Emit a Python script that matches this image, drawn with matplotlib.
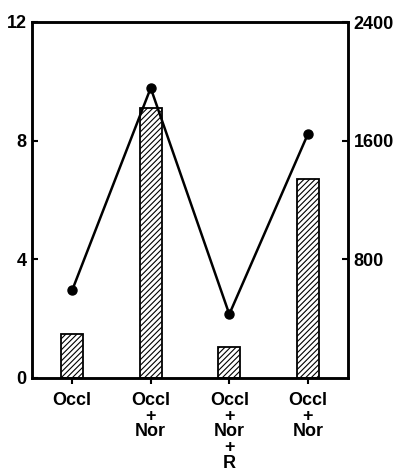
import numpy as np
import matplotlib
matplotlib.use("Agg")
from matplotlib import pyplot as plt

plt.rcParams['font.family'] = ['Liberation Sans', 'DejaVu Sans']
plt.rcParams['hatch.linewidth'] = 0.8

categories = ["Occl", "Occl\n+\nNor", "Occl\n+\nNor\n+\nR", "Occl\n+\nNor"]
bar_values = [1.5, 9.1, 1.05, 6.7]          # left axis (0-12)
line_values = [590, 1955, 430, 1645]        # right axis (0-2400)
left_ticks = [0, 4, 8, 12]
right_ticks = [800, 1600, 2400]

fig = plt.figure(figsize=(3.99, 4.74), dpi=100)
ax = fig.add_axes([32 / 399, 1 - 378 / 474, 316 / 399, 356 / 474])
x = np.arange(len(categories))

ax.bar(x, bar_values, width=0.28, color='white', edgecolor='black',
       linewidth=1.3, hatch='//////', zorder=2)
ax.set_xlim(-0.51, 3.51)
ax.set_ylim(0, 12)
ax.set_yticks(left_ticks)
ax.set_xticks(x)
ax.set_xticklabels(categories, fontsize=13, fontweight='bold', linespacing=0.9)
ax.tick_params(axis='y', direction='in', length=4, width=1.5, labelsize=13, pad=4)
ax.tick_params(axis='x', direction='out', length=4, width=1.5, pad=6)
for lab in ax.get_yticklabels():
    lab.set_fontweight('bold')

ax2 = ax.twinx()
ax2.plot(x, line_values, color='black', linewidth=1.8, marker='o',
         markersize=6.5, zorder=3)
ax2.set_ylim(0, 2400)
ax2.set_yticks(right_ticks)
ax2.tick_params(axis='y', direction='in', length=4, width=1.5, labelsize=13, pad=4)
for lab in ax2.get_yticklabels():
    lab.set_fontweight('bold')

for a in (ax, ax2):
    for s in a.spines.values():
        s.set_linewidth(1.8)

fig.savefig("out.png", dpi=100)
